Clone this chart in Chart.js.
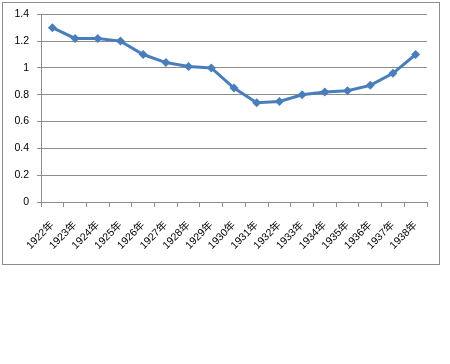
<!DOCTYPE html>
<html>
<head>
<meta charset="utf-8">
<script src="https://cdn.jsdelivr.net/npm/chart.js@4"></script>
<style>
  body { margin: 0; background: #fff; }
  #box { position: absolute; left: 2px; top: 2px; width: 436px; height: 261px; border: 1px solid #8c8c8c; }
  #chart { position: absolute; left: 0; top: -3px; }
</style>
</head>
<body>
<div id="box"><canvas id="chart" width="436" height="264"></canvas></div>
<script>
// Data
const years = ['1922年','1923年','1924年','1925年','1926年','1927年','1928年','1929年','1930年',
    '1931年','1932年','1933年','1934年','1935年','1936年','1937年','1938年'];
const values = [1.30, 1.22, 1.22, 1.20, 1.10, 1.04, 1.01, 1.00, 0.85,
    0.74, 0.75, 0.80, 0.82, 0.83, 0.87, 0.96, 1.10];
const yTicks = [0, 0.2, 0.4, 0.6, 0.8, 1, 1.2, 1.4];

const FONT = "'Liberation Sans', 'Noto Sans CJK SC', sans-serif";

new Chart(document.getElementById('chart'), {
    type: 'line',
    data: {
        labels: years,
        datasets: [{
            data: values,
            borderColor: '#4a7ebb',
            backgroundColor: '#4a7ebb',
            borderWidth: 3,
            pointStyle: 'rectRot',
            pointRadius: 4.5,
            pointBorderWidth: 0,
            tension: 0
        }]
    },
    options: {
        responsive: false,
        animation: false,
        events: [],
        layout: { padding: { top: 7, right: 12, left: 0, bottom: 0 } },
        plugins: { legend: { display: false }, tooltip: { enabled: false } },
        scales: {
            x: {
                offset: true,
                grid: { offset: true, drawOnChartArea: false, color: '#8c8c8c', tickLength: 5 },
                border: { color: '#8c8c8c' },
                ticks: {
                    color: '#000',
                    font: { family: FONT, size: 10.5 },
                    minRotation: 45,
                    maxRotation: 45,
                    autoSkip: false,
                    padding: 12
                },
                afterFit: s => { s.height = 62; }
            },
            y: {
                min: 0,
                max: 1.4,
                afterBuildTicks: s => { s.ticks = yTicks.map(v => ({ value: v })); },
                grid: { color: '#8c8c8c', tickLength: 4 },
                border: { color: '#8c8c8c' },
                ticks: {
                    color: '#000',
                    font: { family: FONT, size: 10.5 },
                    padding: 8,
                    callback: v => String(v)
                },
                afterFit: s => { s.width = 38; }
            }
        }
    }
});
</script>
</body>
</html>
